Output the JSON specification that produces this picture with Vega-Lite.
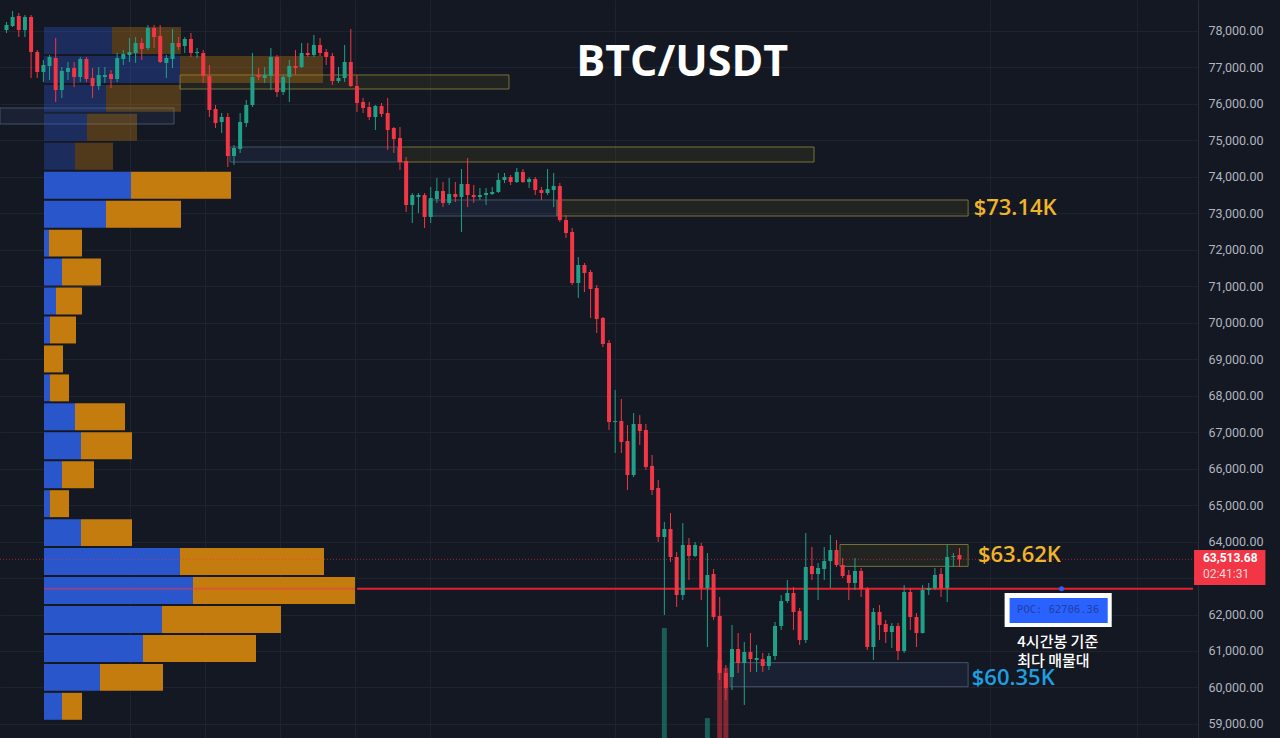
{
  "$schema": "https://vega.github.io/schema/vega-lite/v6.json",
  "width": 1198,
  "height": 738,
  "autosize": {"type": "none"},
  "padding": {"left": 0, "top": 0, "right": 82, "bottom": 0},
  "background": "#141823",
  "config": {"view": {"stroke": null}, "text": {"font": "Open Sans"}, "axis": {"labelOverlap": false, "gridColor": "#1f2330"}},
  "datasets": {
    "candles": [
      {"i":0,"o":78027,"h":78247,"l":77945,"c":78164},
      {"i":1,"o":78137,"h":78548,"l":78110,"c":78384},
      {"i":2,"o":78411,"h":78494,"l":77835,"c":78027},
      {"i":3,"o":78027,"h":78439,"l":77835,"c":78384},
      {"i":4,"o":78384,"h":78439,"l":76711,"c":77424},
      {"i":5,"o":77424,"h":77479,"l":76711,"c":76876},
      {"i":6,"o":76876,"h":77205,"l":76602,"c":77068},
      {"i":7,"o":77040,"h":77342,"l":76656,"c":77287},
      {"i":8,"o":77260,"h":77808,"l":76053,"c":76382},
      {"i":9,"o":76382,"h":77013,"l":76163,"c":76903},
      {"i":10,"o":76876,"h":77150,"l":76656,"c":76985},
      {"i":11,"o":76985,"h":77150,"l":76464,"c":76739},
      {"i":12,"o":76739,"h":77287,"l":76602,"c":77232},
      {"i":13,"o":77232,"h":77287,"l":76602,"c":76684},
      {"i":14,"o":76711,"h":76985,"l":76163,"c":76492},
      {"i":15,"o":76492,"h":77013,"l":76382,"c":76794},
      {"i":16,"o":76739,"h":77013,"l":76574,"c":76794},
      {"i":17,"o":76821,"h":76931,"l":76437,"c":76684},
      {"i":18,"o":76684,"h":77397,"l":76602,"c":77260},
      {"i":19,"o":77232,"h":77479,"l":77068,"c":77369},
      {"i":20,"o":77342,"h":77808,"l":77150,"c":77424},
      {"i":21,"o":77397,"h":77835,"l":77123,"c":77671},
      {"i":22,"o":77671,"h":77808,"l":77205,"c":77506},
      {"i":23,"o":77534,"h":78164,"l":77479,"c":78082},
      {"i":24,"o":78082,"h":78164,"l":77534,"c":77835},
      {"i":25,"o":77863,"h":78164,"l":77123,"c":77150},
      {"i":26,"o":77123,"h":77342,"l":76711,"c":77260},
      {"i":27,"o":77232,"h":78055,"l":76985,"c":77671},
      {"i":28,"o":77671,"h":77835,"l":77479,"c":77561},
      {"i":29,"o":77589,"h":77835,"l":77397,"c":77781},
      {"i":30,"o":77781,"h":77945,"l":77287,"c":77397},
      {"i":31,"o":77397,"h":77534,"l":77260,"c":77424},
      {"i":32,"o":77397,"h":77479,"l":76574,"c":76766},
      {"i":33,"o":76766,"h":77068,"l":75642,"c":75834},
      {"i":34,"o":75861,"h":75971,"l":75340,"c":75477},
      {"i":35,"o":75505,"h":75752,"l":75203,"c":75642},
      {"i":36,"o":75642,"h":75752,"l":74271,"c":74573},
      {"i":37,"o":74573,"h":74874,"l":74326,"c":74792},
      {"i":38,"o":74764,"h":75752,"l":74655,"c":75505},
      {"i":39,"o":75477,"h":76108,"l":75368,"c":75971},
      {"i":40,"o":75971,"h":77397,"l":75916,"c":76739},
      {"i":41,"o":76794,"h":76985,"l":76656,"c":76739},
      {"i":42,"o":76711,"h":77013,"l":76574,"c":76794},
      {"i":43,"o":76766,"h":77534,"l":76382,"c":77287},
      {"i":44,"o":77287,"h":77342,"l":76190,"c":76327},
      {"i":45,"o":76327,"h":76794,"l":76245,"c":76739},
      {"i":46,"o":76739,"h":77205,"l":76053,"c":77040},
      {"i":47,"o":77040,"h":77479,"l":76794,"c":76985},
      {"i":48,"o":77013,"h":77671,"l":76985,"c":77397},
      {"i":49,"o":77397,"h":77671,"l":77287,"c":77342},
      {"i":50,"o":77342,"h":77890,"l":77287,"c":77616},
      {"i":51,"o":77616,"h":77808,"l":77314,"c":77397},
      {"i":52,"o":77424,"h":77506,"l":77068,"c":77287},
      {"i":53,"o":77314,"h":77397,"l":76519,"c":76629},
      {"i":54,"o":76629,"h":77013,"l":76574,"c":76711},
      {"i":55,"o":76711,"h":77616,"l":76602,"c":77150},
      {"i":56,"o":77150,"h":78055,"l":76464,"c":76492},
      {"i":57,"o":76492,"h":76794,"l":75779,"c":76026},
      {"i":58,"o":76053,"h":76163,"l":75752,"c":75889},
      {"i":59,"o":75916,"h":76053,"l":75560,"c":75642},
      {"i":60,"o":75642,"h":75971,"l":75285,"c":75943},
      {"i":61,"o":75943,"h":76026,"l":75642,"c":75724},
      {"i":62,"o":75752,"h":76163,"l":74737,"c":75285},
      {"i":63,"o":75340,"h":75368,"l":74655,"c":75039},
      {"i":64,"o":75066,"h":75368,"l":74189,"c":74408},
      {"i":65,"o":74435,"h":74545,"l":73037,"c":73229},
      {"i":66,"o":73229,"h":73558,"l":72735,"c":73503},
      {"i":67,"o":73448,"h":73558,"l":73010,"c":73503},
      {"i":68,"o":73503,"h":73558,"l":72598,"c":72900},
      {"i":69,"o":72900,"h":73723,"l":72735,"c":73421},
      {"i":70,"o":73393,"h":73969,"l":73284,"c":73613},
      {"i":71,"o":73613,"h":73860,"l":73174,"c":73284},
      {"i":72,"o":73284,"h":73969,"l":73229,"c":73531},
      {"i":73,"o":73531,"h":73860,"l":73311,"c":73448},
      {"i":74,"o":73448,"h":74216,"l":72489,"c":73805},
      {"i":75,"o":73805,"h":74518,"l":73174,"c":73503},
      {"i":76,"o":73503,"h":73777,"l":73284,"c":73448},
      {"i":77,"o":73448,"h":73695,"l":73366,"c":73503},
      {"i":78,"o":73503,"h":73695,"l":73229,"c":73558},
      {"i":79,"o":73531,"h":73723,"l":73503,"c":73585},
      {"i":80,"o":73585,"h":74106,"l":73558,"c":73914},
      {"i":81,"o":73914,"h":74106,"l":73832,"c":73996},
      {"i":82,"o":73996,"h":74052,"l":73777,"c":73860},
      {"i":83,"o":73860,"h":74243,"l":73832,"c":74134},
      {"i":84,"o":74134,"h":74216,"l":73832,"c":73860},
      {"i":85,"o":73860,"h":73996,"l":73695,"c":73942},
      {"i":86,"o":73942,"h":73996,"l":73503,"c":73640},
      {"i":87,"o":73640,"h":73723,"l":73366,"c":73558},
      {"i":88,"o":73558,"h":74216,"l":73503,"c":73668},
      {"i":89,"o":73640,"h":74106,"l":73174,"c":73750},
      {"i":90,"o":73750,"h":73832,"l":72763,"c":72818},
      {"i":91,"o":72818,"h":72955,"l":72324,"c":72461},
      {"i":92,"o":72489,"h":72598,"l":71035,"c":71090},
      {"i":93,"o":71090,"h":71803,"l":70679,"c":71584},
      {"i":94,"o":71584,"h":71639,"l":70843,"c":71364},
      {"i":95,"o":71392,"h":71447,"l":70130,"c":70926},
      {"i":96,"o":70953,"h":71035,"l":69719,"c":70103},
      {"i":97,"o":70130,"h":70158,"l":69335,"c":69417},
      {"i":98,"o":69445,"h":69527,"l":67059,"c":67279},
      {"i":99,"o":67279,"h":68156,"l":66429,"c":67306},
      {"i":100,"o":67306,"h":67910,"l":66429,"c":66730},
      {"i":101,"o":66758,"h":67197,"l":65414,"c":65826},
      {"i":102,"o":65826,"h":67525,"l":65771,"c":67224},
      {"i":103,"o":67224,"h":67470,"l":66648,"c":67032},
      {"i":104,"o":67059,"h":67224,"l":65963,"c":66045},
      {"i":105,"o":66072,"h":66374,"l":65277,"c":65414},
      {"i":106,"o":65469,"h":65688,"l":63988,"c":64125},
      {"i":107,"o":64125,"h":64537,"l":61987,"c":64345,"v":149},
      {"i":108,"o":64345,"h":64783,"l":63440,"c":63577},
      {"i":109,"o":63577,"h":63714,"l":62206,"c":62535},
      {"i":110,"o":62535,"h":64509,"l":62398,"c":63906},
      {"i":111,"o":63906,"h":64098,"l":62946,"c":63605},
      {"i":112,"o":63605,"h":63988,"l":63577,"c":63906},
      {"i":113,"o":63879,"h":63961,"l":62398,"c":62727},
      {"i":114,"o":62727,"h":63687,"l":61109,"c":63084,"v":27},
      {"i":115,"o":63111,"h":63248,"l":61850,"c":61932},
      {"i":116,"o":61959,"h":62480,"l":60204,"c":60396,"v":106},
      {"i":117,"o":60396,"h":60616,"l":59656,"c":59985,"v":95},
      {"i":118,"o":60287,"h":61713,"l":59930,"c":61055},
      {"i":119,"o":61055,"h":61493,"l":60396,"c":60671},
      {"i":120,"o":60671,"h":61246,"l":59519,"c":60973},
      {"i":121,"o":60973,"h":61493,"l":60424,"c":60780},
      {"i":122,"o":60753,"h":61164,"l":60424,"c":60808},
      {"i":123,"o":60780,"h":60945,"l":60424,"c":60588},
      {"i":124,"o":60588,"h":60945,"l":60479,"c":60863},
      {"i":125,"o":60863,"h":61795,"l":60753,"c":61685},
      {"i":126,"o":61685,"h":62535,"l":61576,"c":62370},
      {"i":127,"o":62370,"h":62946,"l":62316,"c":62590},
      {"i":128,"o":62590,"h":62754,"l":61576,"c":62069},
      {"i":129,"o":62096,"h":62179,"l":61164,"c":61301},
      {"i":130,"o":61301,"h":64235,"l":61219,"c":63303},
      {"i":131,"o":63330,"h":63851,"l":62946,"c":63111},
      {"i":132,"o":63111,"h":63413,"l":62398,"c":63276},
      {"i":133,"o":63248,"h":63851,"l":62946,"c":63467},
      {"i":134,"o":63467,"h":64180,"l":62727,"c":63769},
      {"i":135,"o":63769,"h":64043,"l":63303,"c":63358},
      {"i":136,"o":63358,"h":63550,"l":63001,"c":63056},
      {"i":137,"o":63084,"h":63221,"l":62398,"c":62864},
      {"i":138,"o":62864,"h":63550,"l":62672,"c":63193},
      {"i":139,"o":63193,"h":63276,"l":62480,"c":62700},
      {"i":140,"o":62700,"h":62754,"l":61027,"c":61109},
      {"i":141,"o":61109,"h":62179,"l":60753,"c":62069},
      {"i":142,"o":62069,"h":62261,"l":61301,"c":61713},
      {"i":143,"o":61740,"h":61850,"l":61219,"c":61521},
      {"i":144,"o":61521,"h":61768,"l":61082,"c":61685},
      {"i":145,"o":61685,"h":61768,"l":60753,"c":61000},
      {"i":146,"o":61000,"h":62809,"l":60945,"c":62617},
      {"i":147,"o":62617,"h":62727,"l":61576,"c":61932},
      {"i":148,"o":61932,"h":62041,"l":61109,"c":61493},
      {"i":149,"o":61493,"h":62809,"l":61480,"c":62672},
      {"i":150,"o":62672,"h":62864,"l":62535,"c":62727},
      {"i":151,"o":62727,"h":63276,"l":62672,"c":63084},
      {"i":152,"o":63111,"h":63276,"l":62480,"c":62727},
      {"i":153,"o":62727,"h":63906,"l":62343,"c":63577},
      {"i":154,"o":63577,"h":63687,"l":63303,"c":63605},
      {"i":155,"o":63632,"h":63824,"l":63303,"c":63513.68}
    ],
    "vp": [
      {"hi":78137,"lo":77343,"buy":6800,"sell":6900,"area":"outside"},
      {"hi":77343,"lo":76549,"buy":13600,"sell":14300,"area":"outside"},
      {"hi":76549,"lo":75756,"buy":6200,"sell":7500,"area":"outside"},
      {"hi":75756,"lo":74962,"buy":4300,"sell":5000,"area":"outside"},
      {"hi":74962,"lo":74168,"buy":3100,"sell":3800,"area":"outside"},
      {"hi":74168,"lo":73374,"buy":8700,"sell":10000,"area":"value"},
      {"hi":73374,"lo":72580,"buy":6200,"sell":7500,"area":"value"},
      {"hi":72580,"lo":71787,"buy":500,"sell":3300,"area":"value"},
      {"hi":71787,"lo":70993,"buy":1800,"sell":3900,"area":"value"},
      {"hi":70993,"lo":70199,"buy":1200,"sell":2600,"area":"value"},
      {"hi":70199,"lo":69405,"buy":600,"sell":2600,"area":"value"},
      {"hi":69405,"lo":68611,"buy":0,"sell":1900,"area":"value"},
      {"hi":68611,"lo":67818,"buy":600,"sell":1900,"area":"value"},
      {"hi":67818,"lo":67024,"buy":3100,"sell":5000,"area":"value"},
      {"hi":67024,"lo":66230,"buy":3700,"sell":5100,"area":"value"},
      {"hi":66230,"lo":65436,"buy":1800,"sell":3200,"area":"value"},
      {"hi":65436,"lo":64642,"buy":600,"sell":1900,"area":"value"},
      {"hi":64642,"lo":63849,"buy":3700,"sell":5100,"area":"value"},
      {"hi":63849,"lo":63055,"buy":13600,"sell":14400,"area":"value"},
      {"hi":63055,"lo":62261,"buy":14900,"sell":16200,"area":"value"},
      {"hi":62261,"lo":61467,"buy":11800,"sell":11900,"area":"value"},
      {"hi":61467,"lo":60673,"buy":9900,"sell":11300,"area":"value"},
      {"hi":60673,"lo":59880,"buy":5600,"sell":6300,"area":"value"},
      {"hi":59880,"lo":59086,"buy":1800,"sell":2000,"area":"value"}
    ],
    "zones": [
      {"x1":28.79,"x2":81.85,"top":76794,"bot":76410,"kind":"supply"},
      {"x1":-0.24,"x2":27.82,"top":75889,"bot":75450,"kind":"demand"},
      {"x1":36.85,"x2":63.95,"top":74819,"bot":74408,"kind":"demand"},
      {"x1":63.95,"x2":131.05,"top":74819,"bot":74408,"kind":"supply"},
      {"x1":68.95,"x2":89.6,"top":73366,"bot":72927,"kind":"demand"},
      {"x1":89.6,"x2":155.9,"top":73366,"bot":72927,"kind":"supply"},
      {"x1":135.24,"x2":155.9,"top":63920,"bot":63320,"kind":"supply"},
      {"x1":117.5,"x2":155.9,"top":60680,"bot":60020,"kind":"demand"}
    ]
  },
  "layer": [
    {
      "data": {"name": "zones"},
      "mark": {"type": "rect", "fillOpacity": 0.15, "strokeWidth": 1},
      "encoding": {
        "x": {"field": "x1", "type": "quantitative", "scale": {"domain": [-0.242, 192.98], "zero": false, "nice": false},
          "axis": {"orient": "bottom", "values": [20.73, 32.8, 44.9, 57.0, 69.1, 98.95, 159.4, 183.1], "labels": false, "ticks": false, "domain": false, "title": null, "grid": true, "gridColor": "#1f2330"}},
        "x2": {"field": "x2"},
        "y": {"field": "top", "type": "quantitative", "scale": {"domain": [58614, 78850], "zero": false, "nice": false},
          "axis": {"orient": "right", "values": [59000,60000,61000,62000,63000,64000,65000,66000,67000,68000,69000,70000,71000,72000,73000,74000,75000,76000,77000,78000],
            "format": ",.2f", "title": null, "grid": true, "gridColor": "#1f2330", "ticks": false, "domain": true, "domainColor": "#2a2e39",
            "labelColor": "#b2b5be", "labelFont": "Roboto", "labelFontSize": 12.5, "labelPadding": 10, "labelOverlap": false, "labelFlush": false, "labelBound": false, "labelSeparation": 0}},
        "y2": {"field": "bot"},
        "fill": {"field": "kind", "type": "nominal", "scale": {"domain": ["supply", "demand"], "range": ["#6e6914", "#3c5a8c"]}, "legend": null},
        "stroke": {"field": "kind", "type": "nominal", "scale": {"domain": ["supply", "demand"], "range": ["#77723a", "#45536b"]}, "legend": null}
      }
    },
    {
      "layer": [
        {
          "data": {"name": "vp"},
          "transform": [
            {"fold": ["buy", "sell"], "as": ["side", "vol"]},
            {"stack": "vol", "groupby": ["hi"], "sort": [{"field": "side", "order": "ascending"}], "as": ["v0", "v1"]}
          ],
          "mark": {"type": "rect", "yOffset": 1, "y2Offset": -1},
          "encoding": {
            "y": {"field": "hi", "type": "quantitative", "scale": {"domain": [58614, 78850], "zero": false, "nice": false}, "axis": null},
            "y2": {"field": "lo"},
            "x": {"field": "v0", "type": "quantitative", "scale": {"domain": [0, 115400], "range": [44, 1198], "nice": false}, "axis": null},
            "x2": {"field": "v1"},
            "color": {"field": "side", "type": "nominal", "scale": {"domain": ["buy", "sell"], "range": ["#2a56cc", "#c47c0e"]}, "legend": null},
            "opacity": {"field": "area", "type": "nominal", "scale": {"domain": ["value", "outside"], "range": [1, 0.35]}, "legend": null}
          }
        },
        {
          "data": {"values": [{"poc": 62706.36, "from": 0, "to": 31100}]},
          "mark": {"type": "rule", "color": "#f23645", "strokeWidth": 2, "opacity": 0.5},
          "encoding": {
            "y": {"field": "poc", "type": "quantitative"},
            "x": {"field": "from", "type": "quantitative"},
            "x2": {"field": "to"}
          }
        }
      ]
    },
    {
      "data": {"name": "candles"},
      "transform": [{"filter": "isValid(datum.v)"}],
      "mark": {"type": "bar", "size": 5, "opacity": 0.5},
      "encoding": {
        "x": {"field": "i", "type": "quantitative", "scale": {"domain": [-0.242, 192.98], "zero": false, "nice": false}, "axis": null},
        "y": {"field": "v", "type": "quantitative", "scale": {"domain": [0, 1000], "nice": false}, "axis": null},
        "y2": {"datum": 0},
        "color": {"condition": {"test": "datum.c >= datum.o", "value": "#1fa189"}, "value": "#f23645"}
      }
    },
    {
      "layer": [
        {
          "data": {"values": [{"last": 63513.68}]},
          "mark": {"type": "rule", "color": "#f23645", "strokeDash": [1, 2], "opacity": 0.6},
          "encoding": {"y": {"field": "last", "type": "quantitative", "scale": {"domain": [58614, 78850], "zero": false, "nice": false}, "axis": null}}
        },
        {
          "data": {"values": [{"poc": 62706.36, "from": 57.0, "to": 192.98}]},
          "mark": {"type": "rule", "color": "#e3202e", "strokeWidth": 2},
          "encoding": {
            "y": {"field": "poc", "type": "quantitative", "axis": null},
            "x": {"field": "from", "type": "quantitative", "scale": {"domain": [-0.242, 192.98], "zero": false, "nice": false}, "axis": null},
            "x2": {"field": "to"}
          }
        },
        {
          "data": {"name": "candles"},
          "mark": {"type": "rule", "strokeWidth": 1},
          "encoding": {
            "x": {"field": "i", "type": "quantitative"},
            "y": {"field": "l", "type": "quantitative"},
            "y2": {"field": "h"},
            "color": {"condition": {"test": "datum.c >= datum.o", "value": "#1fa189"}, "value": "#f23645"}
          }
        },
        {
          "data": {"name": "candles"},
          "mark": {"type": "bar", "size": 4},
          "encoding": {
            "x": {"field": "i", "type": "quantitative"},
            "y": {"field": "o", "type": "quantitative"},
            "y2": {"field": "c"},
            "color": {"condition": {"test": "datum.c >= datum.o", "value": "#1fa189"}, "value": "#f23645"}
          }
        },
        {
          "data": {"values": [{"x1": 162.34, "x2": 179.76, "top": 62590, "bot": 61658}]},
          "mark": {"type": "rect", "color": "#ffffff"},
          "encoding": {
            "x": {"field": "x1", "type": "quantitative"}, "x2": {"field": "x2"},
            "y": {"field": "top", "type": "quantitative"}, "y2": {"field": "bot"}
          }
        },
        {
          "data": {"values": [{"x1": 163.15, "x2": 179.11, "top": 62453, "bot": 61768}]},
          "mark": {"type": "rect", "color": "#2962ff"},
          "encoding": {
            "x": {"field": "x1", "type": "quantitative"}, "x2": {"field": "x2"},
            "y": {"field": "top", "type": "quantitative"}, "y2": {"field": "bot"}
          }
        },
        {
          "data": {"values": [{"t": "POC: 62706.36", "x": 171.05, "p": 62124}]},
          "mark": {"type": "text", "font": "DejaVu Sans Mono", "fontSize": 10.5, "color": "#23409e", "align": "center", "baseline": "middle"},
          "encoding": {"x": {"field": "x", "type": "quantitative"}, "y": {"field": "p", "type": "quantitative"}, "text": {"field": "t"}}
        },
        {
          "data": {"values": [{"x": 171.6, "p": 62706.36}]},
          "mark": {"type": "point", "shape": "circle", "filled": true, "size": 25, "color": "#2962ff", "opacity": 1},
          "encoding": {"x": {"field": "x", "type": "quantitative"}, "y": {"field": "p", "type": "quantitative"}}
        },
        {
          "data": {"values": [{"t": "4시간봉 기준", "x": 164.4, "p": 61255}, {"t": "최다 매물대", "x": 164.4, "p": 60734}]},
          "mark": {"type": "text", "font": "Noto Sans CJK KR", "fontSize": 15, "fontWeight": 500, "color": "#ffffff", "align": "left", "baseline": "middle"},
          "encoding": {"x": {"field": "x", "type": "quantitative"}, "y": {"field": "p", "type": "quantitative"}, "text": {"field": "t"}}
        },
        {
          "data": {"values": [{"t": "BTC/USDT", "x": 109.9, "p": 77136}]},
          "mark": {"type": "text", "font": "Open Sans", "fontSize": 43, "fontWeight": "bold", "color": "#ffffff", "align": "center", "baseline": "middle"},
          "encoding": {"x": {"field": "x", "type": "quantitative"}, "y": {"field": "p", "type": "quantitative"}, "text": {"field": "t"}}
        },
        {
          "data": {"values": [
            {"t": "$73.14K", "x": 157.3, "p": 73140, "side": "resistance"},
            {"t": "$63.62K", "x": 158.0, "p": 63640, "side": "resistance"},
            {"t": "$60.35K", "x": 157.0, "p": 60250, "side": "support"}
          ]},
          "mark": {"type": "text", "font": "Open Sans", "fontSize": 22, "fontWeight": 600, "align": "left", "baseline": "middle"},
          "encoding": {
            "x": {"field": "x", "type": "quantitative"}, "y": {"field": "p", "type": "quantitative"}, "text": {"field": "t"},
            "color": {"field": "side", "type": "nominal", "scale": {"domain": ["resistance", "support"], "range": ["#f0b429", "#1e9fe0"]}, "legend": null}
          }
        },
        {
          "data": {"values": [{"x1": 193.15, "x2": 204.76, "top": 63769, "bot": 62810}]},
          "mark": {"type": "rect", "color": "#f23645"},
          "encoding": {
            "x": {"field": "x1", "type": "quantitative"}, "x2": {"field": "x2"},
            "y": {"field": "top", "type": "quantitative"}, "y2": {"field": "bot"}
          }
        },
        {
          "data": {"values": [{"t": "63,513.68", "x": 194.6, "p": 63545}]},
          "mark": {"type": "text", "font": "Roboto", "fontSize": 12, "fontWeight": "bold", "color": "#ffffff", "align": "left", "baseline": "middle"},
          "encoding": {"x": {"field": "x", "type": "quantitative"}, "y": {"field": "p", "type": "quantitative"}, "text": {"field": "t"}}
        },
        {
          "data": {"values": [{"t": "02:41:31", "x": 194.6, "p": 63105}]},
          "mark": {"type": "text", "font": "Roboto", "fontSize": 12, "color": "#fbd5d9", "align": "left", "baseline": "middle"},
          "encoding": {"x": {"field": "x", "type": "quantitative"}, "y": {"field": "p", "type": "quantitative"}, "text": {"field": "t"}}
        }
      ]
    }
  ],
  "resolve": {
    "scale": {"x": "independent", "y": "independent", "color": "independent", "opacity": "independent"},
    "axis": {"x": "independent", "y": "independent"}
  }
}
